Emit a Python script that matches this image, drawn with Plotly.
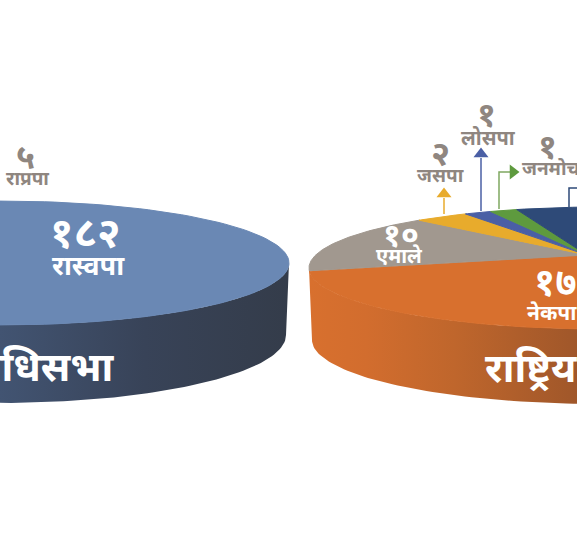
"""Two cropped 3D-looking seat pies, drawn as filled scatter traces."""
import numpy as np
import plotly.graph_objects as go

# left pie: प्रतिनिधिसभा
left_names = ["रास्वपा", "अन्य"]
left_values = [182, 93]
# right pie: राष्ट्रिय सभा, navy share is cut off in the picture so it is a guess
right_names = ["नेकपा", "एमाले", "जसपा", "लोसपा", "जनमोर्चा", "अन्य"]
right_values = [17, 10, 2, 1, 1, 35]
right_colors = ["#D8702E", "#A1988F", "#E8AB2C", "#4A5FA5", "#5E9A3E", "#2E4A78"]

TEXT_GREY = "#8F8680"
FONT = "Noto Sans Devanagari, Noto Sans, sans-serif"


def rim(cx, cy, a, b, t0, t1):
    t = np.radians(np.linspace(t0, t1, 120))
    return cx + a * np.cos(t), cy - b * np.sin(t)


def side(fig, cx, cy, a, b, bottom_b, colors):
    # front wall between the top rim and a slightly smaller bottom rim
    x1, y1 = rim(cx, cy, a, b, 180, 360)
    x2, y2 = rim(cx, cy + 72, a - 3, bottom_b, 360, 180)
    fig.add_trace(go.Scatter(
        x=np.r_[x1, x2], y=np.r_[y1, y2], mode="lines", line_width=0, fill="toself",
        fillgradient=dict(type="horizontal", colorscale=colors),
    ))


def wedge(fig, center, cx, cy, a, b, t0, t1, color):
    x, y = rim(cx, cy, a, b, t0, t1)
    fig.add_trace(go.Scatter(
        x=np.r_[center[0], x, center[0]], y=np.r_[center[1], y, center[1]], mode="lines",
        line=dict(color=color, width=1), fill="toself", fillcolor=color,
    ))


fig = go.Figure()

# left pie
side(fig, 0, 263, 289, 62, 68, [[0, "#3A4C6C"], [0.5, "#425472"], [0.75, "#384358"], [1, "#343C4A"]])
left_sweep = left_values[0] / sum(left_values) * 360
wedge(fig, (0, 263), 0, 263, 289, 62, -left_sweep / 2, left_sweep / 2, "#6A88B4")

# right pie, wedges run both ways from the left edge
seat_deg = 360 / sum(right_values)
# the gradient spans the whole wall, only the first 46% of it is on the page
side(fig, 600, 268, 291, 61, 64,
     [[0, "#D8702E"], [0.1, "#D26D2E"], [0.25, "#BF662C"], [0.46, "#A0572A"], [1, "#8A4A22"]])
center = (587, 255)
START = 183
wedge(fig, center, 600, 268, 291, 61, START, START + right_values[0] * seat_deg, right_colors[0])
angle = START
for val, color in zip(right_values[1:], right_colors[1:]):
    wedge(fig, center, 600, 268, 291, 61, angle, angle - val * seat_deg, color)
    angle -= val * seat_deg

# leader lines from the rim to the small slices
fig.add_trace(go.Scatter(x=[444, 444], y=[214, 198], mode="lines", line=dict(color="#E8AB2C", width=1.5)))
fig.add_trace(go.Scatter(x=[481, 481], y=[211, 158], mode="lines", line=dict(color="#4A5FA5", width=1.5)))
fig.add_trace(go.Scatter(x=[499, 499, 510], y=[209, 172, 172], mode="lines", line=dict(color="#7FA860", width=1.5)))
fig.add_trace(go.Scatter(x=[569, 569, 580], y=[207, 188, 188], mode="lines", line=dict(color="#2E4A78", width=1.5)))
fig.add_trace(go.Scatter(x=[444], y=[194], mode="markers", marker=dict(symbol="triangle-up", size=13, color="#E8AB2C")))
fig.add_trace(go.Scatter(x=[481], y=[154], mode="markers", marker=dict(symbol="triangle-up", size=13, color="#4A5FA5")))
fig.add_trace(go.Scatter(x=[513], y=[172], mode="markers", marker=dict(symbol="triangle-right", size=13, color="#5E9A3E")))


def label(x, y, text, size, color="white", anchor="center"):
    fig.add_annotation(x=x, y=y, text=f"<b>{text}</b>", showarrow=False, xanchor=anchor,
                       font=dict(family=FONT, size=size, color=color))


label(85, 236, "१८२", 42)
label(88, 268, left_names[0], 27)
label(25, 160, "५", 34, TEXT_GREY)
label(27, 180, "राप्रपा", 19, TEXT_GREY)
label(117, 371, "प्रतिनिधिसभा", 40, anchor="right")
label(401, 238, "१०", 32)
label(399, 257, right_names[1], 20)
label(532, 286, "१७", 38, anchor="left")
label(525, 315, right_names[0], 21, anchor="left")
label(483, 372, "राष्ट्रिय सभा", 40, anchor="left")
label(440, 157, "२", 34, TEXT_GREY)
label(440, 177, right_names[2], 19, TEXT_GREY)
label(486, 118, "१", 34, TEXT_GREY)
label(488, 139, right_names[3], 20, TEXT_GREY)
label(547, 150, "१", 34, TEXT_GREY)
label(520, 170, right_names[4], 19, TEXT_GREY, anchor="left")

fig.update_layout(
    width=577, height=543, margin=dict(l=0, r=0, t=0, b=0),
    paper_bgcolor="white", plot_bgcolor="white", showlegend=False,
    xaxis=dict(range=[0, 577], visible=False, fixedrange=True),
    yaxis=dict(range=[543, 0], visible=False, fixedrange=True),
)
# default page margin would push the picture 8px in
fig.write_html("out.html", config=dict(displayModeBar=False),
               post_script="document.body.style.margin='0';document.body.style.overflow='hidden';")
